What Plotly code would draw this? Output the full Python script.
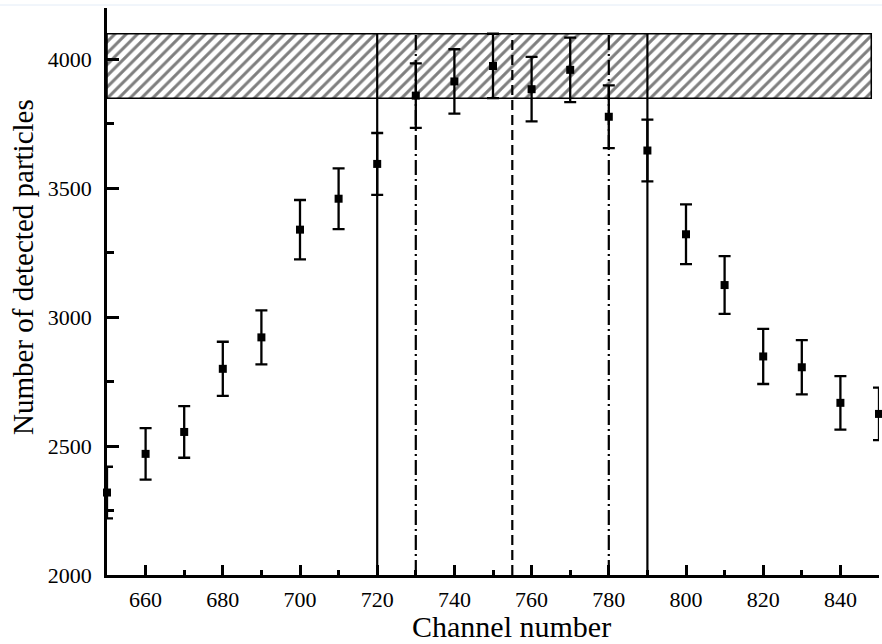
import plotly.graph_objects as go

channels = [650, 660, 670, 680, 690, 700, 710, 720, 730, 740, 750,
            760, 770, 780, 790, 800, 810, 820, 830, 840, 850]
counts = [2320, 2470, 2555, 2800, 2922, 3340, 3460, 3595, 3860, 3915, 3975,
          3885, 3960, 3778, 3647, 3322, 3125, 2848, 2806, 2668, 2625]
errors = [100, 100, 100, 105, 105, 115, 118, 120, 125, 125, 125,
          125, 125, 122, 120, 116, 112, 107, 105, 104, 102]

band_x = [650, 848]
band_y = [3850, 4100]

solid_lines = [720, 790]
dashdot_lines = [730, 780]
dash_lines = [755]

x_ticks = [660, 680, 700, 720, 740, 760, 780, 800, 820, 840]
y_ticks = [2000, 2500, 3000, 3500, 4000]

FONT = "Liberation Serif"

fig = go.Figure()

# hatched band
fig.add_trace(go.Bar(
    x=[(band_x[0] + band_x[1]) / 2], width=[band_x[1] - band_x[0]],
    base=[band_y[0]], y=[band_y[1] - band_y[0]],
    marker=dict(color="white",
                line=dict(color="black", width=1.5),
                pattern=dict(shape="/", fgcolor="black", bgcolor="white",
                             size=8, solidity=0.38)),
    showlegend=False, hoverinfo="skip"))

def vline(x, dash):
    fig.add_trace(go.Scatter(
        x=[x, x], y=[2000, band_y[1]], mode="lines",
        line=dict(color="black", width=2.2, dash=dash),
        showlegend=False, hoverinfo="skip"))

for x in solid_lines:
    vline(x, "solid")
for x in dashdot_lines:
    vline(x, "15px,4px,2px,4px")
for x in dash_lines:
    vline(x, "10px,5px")

fig.add_trace(go.Scatter(
    x=channels, y=counts, mode="markers",
    marker=dict(symbol="square", size=8, color="black"),
    error_y=dict(type="data", array=errors, visible=True,
                 color="black", thickness=2.3, width=6),
    showlegend=False, cliponaxis=False))

fig.update_layout(
    width=882, height=644,
    margin=dict(l=107, r=3, t=8, b=69),
    plot_bgcolor="white", paper_bgcolor="white",
    font=dict(family=FONT, color="black", size=22),
    xaxis=dict(range=[650, 850], showline=True, linecolor="black", linewidth=2.5,
               ticks="inside", ticklen=10, tickwidth=2.5, tickcolor="black",
               tickvals=x_ticks, ticktext=[str(v) for v in x_ticks],
               minor=dict(dtick=10, tick0=650, ticks="inside", ticklen=5,
                          tickwidth=2.5, tickcolor="black", showgrid=False),
               showgrid=False, zeroline=False, ticklabelstandoff=3,
               tickfont=dict(size=22, family=FONT)),
    yaxis=dict(range=[2000, 4200], showline=True, linecolor="black", linewidth=2.5,
               ticks="inside", ticklen=12, tickwidth=2.5, tickcolor="black",
               tickvals=y_ticks, ticktext=[str(v) for v in y_ticks],
               minor=dict(dtick=250, tick0=2000, ticks="inside", ticklen=7,
                          tickwidth=2.5, tickcolor="black", showgrid=False),
               showgrid=False, zeroline=False, ticklabelstandoff=8,
               tickfont=dict(size=22, family=FONT)),
    annotations=[
        dict(text="Channel number", xref="paper", yref="paper",
             x=(511 - 107) / 772, y=-(626 - 575) / 567, xanchor="center",
             yanchor="middle", showarrow=False, font=dict(size=30, family=FONT)),
        dict(text="Number of detected particles", xref="paper", yref="paper",
             x=-(107 - 23) / 772, y=(575 - 267) / 567, xanchor="center",
             yanchor="middle", textangle=-90, showarrow=False,
             font=dict(size=29, family=FONT)),
    ],
    shapes=[dict(type="line", xref="paper", yref="paper",
                 x0=-107 / 772, x1=(882 - 107) / 772,
                 y0=1 + 3 / 567, y1=1 + 3 / 567,
                 line=dict(color="#e3ecf7", width=1))],
)

fig.write_html("out.html", config={"displayModeBar": False},
               post_script="document.body.style.margin='0';")
